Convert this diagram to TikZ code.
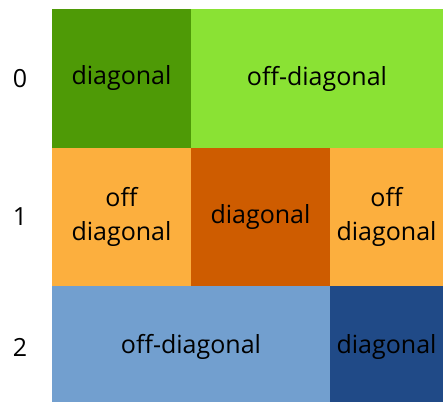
\documentclass[tikz,border=0pt]{standalone}
\usepackage{fontspec}
\setmainfont{Open Sans}
\usepackage{tikz}
\usetikzlibrary{positioning}

\definecolor{greendark}{HTML}{4E9A06}
\definecolor{greenlight}{HTML}{8AE234}
\definecolor{orangedark}{HTML}{CE5C00}
\definecolor{orangelight}{HTML}{FCAF3E}
\definecolor{bluedark}{HTML}{204A87}
\definecolor{bluelight}{HTML}{729FCF}

\begin{document}
\begin{tikzpicture}[x=1pt, y=-1pt,
	cellnode/.style={rectangle, inner sep=0pt, outer sep=0pt, align=center, font=\fontsize{25}{34}\selectfont},
	rownode/.style={inner sep=0pt, font=\fontsize{25}{30}\selectfont},
	]
	\useasboundingbox (0, 0) rectangle (443, 401);
	\clip (0, 0) rectangle (443, 401);
	% Cells
	\node[cellnode, fill=greendark, minimum width=139pt, minimum height=139pt]   (diag_row0)     at (121.5, 78.5)  {diagonal};
	\node[cellnode, fill=greenlight, minimum width=252pt, minimum height=139pt]  (off_row0)      at (317, 78.5)    {off-diagonal};
	\node[cellnode, fill=orangelight, minimum width=139pt, minimum height=138pt] (off_left_row1) at (121.5, 217)   {off\\diagonal};
	\node[cellnode, fill=orangedark, minimum width=139pt, minimum height=138pt]  (diag_row1)     at (260.5, 217)   {diagonal};
	\node[cellnode, fill=orangelight, minimum width=113pt, minimum height=138pt] (off_right_row1) at (386.5, 217)  {off\\diagonal};
	\node[cellnode, fill=bluelight, minimum width=278pt, minimum height=122pt]   (off_row2)      at (191, 347)     {off-diagonal};
	\node[cellnode, fill=bluedark, minimum width=113pt, minimum height=122pt]    (diag_row2)     at (386.5, 347)   {diagonal};

	% Row labels
	\node[rownode] (label_row0) at (20, 78.5)  {0};
	\node[rownode] (label_row1) at (20, 217)   {1};
	\node[rownode] (label_row2) at (20, 347)   {2};
\end{tikzpicture}
\end{document}
